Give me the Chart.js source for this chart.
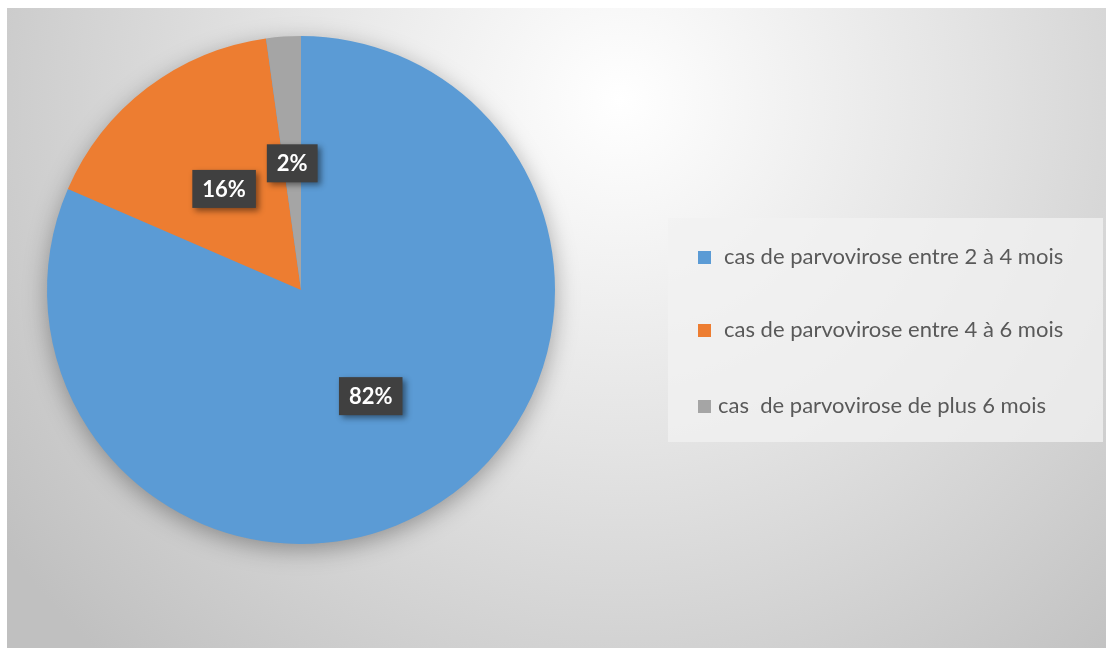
<!DOCTYPE html>
<html>
<head>
<meta charset="utf-8">
<script src="https://cdn.jsdelivr.net/npm/chart.js@4"></script>
<style>
  html, body { margin: 0; padding: 0; background: #fff; }
  #wrap { width: 1106px; height: 648px; position: relative; }
</style>
</head>
<body>
<div id="wrap"><canvas id="pieChart" width="1106" height="648"></canvas></div>
<script>
const categories = [
    'cas de parvovirose entre 2 à 4 mois',
    'cas de parvovirose entre 4 à 6 mois',
    'cas  de parvovirose de plus 6 mois'
]
const valeurs = [81.5, 16.3, 2.2]
const etiquettes = ['82%', '16%', '2%']
const couleurs = ['#5B9BD5', '#ED7D31', '#A5A5A5']

const fond = {
    id: 'fond',
    beforeDraw(chart) {
        const ctx = chart.ctx
        ctx.save()
        ctx.fillStyle = '#ffffff'
        ctx.fillRect(0, 0, chart.width, chart.height)
        const g = ctx.createRadialGradient(620, 100, 0, 620, 100, 760)
        g.addColorStop(0, '#ffffff')
        g.addColorStop(0.45, '#e4e4e4')
        g.addColorStop(1, '#c0c0c0')
        ctx.fillStyle = g
        ctx.fillRect(7, 8, chart.width - 7, chart.height - 8)
        ctx.restore()
    },
    beforeDatasetsDraw(chart) {
        const arc = chart.getDatasetMeta(0).data[0]
        const ctx = chart.ctx
        ctx.save()
        ctx.shadowColor = 'rgba(0,0,0,0.35)'
        ctx.shadowBlur = 24
        ctx.shadowOffsetX = 0
        ctx.shadowOffsetY = 6
        ctx.fillStyle = '#5B9BD5'
        ctx.beginPath()
        ctx.arc(arc.x, arc.y, arc.outerRadius - 1, 0, Math.PI * 2)
        ctx.fill()
        ctx.restore()
    }
}

const etiquettesPlugin = {
    id: 'etiquettes',
    afterDatasetsDraw(chart) {
        const ctx = chart.ctx
        const meta = chart.getDatasetMeta(0)
        ctx.save()
        ctx.font = 'bold 22px Lato'
        ctx.textAlign = 'center'
        ctx.textBaseline = 'middle'
        meta.data.forEach((arc, i) => {
            const p = arc.tooltipPosition()
            const w = ctx.measureText(etiquettes[i]).width + 20
            const h = 38
            ctx.save()
            ctx.shadowColor = 'rgba(0,0,0,0.45)'
            ctx.shadowBlur = 6
            ctx.shadowOffsetX = 3
            ctx.shadowOffsetY = 3
            ctx.fillStyle = '#404040'
            ctx.fillRect(p.x - w / 2, p.y - h / 2, w, h)
            ctx.restore()
            ctx.fillStyle = '#ffffff'
            ctx.fillText(etiquettes[i], p.x, p.y + 1)
        })
        ctx.restore()
    }
}

const legende = {
    id: 'legende',
    afterDraw(chart) {
        const ctx = chart.ctx
        ctx.save()
        ctx.fillStyle = 'rgba(242,242,242,0.75)'
        ctx.fillRect(668, 218, 435, 224)
        ctx.font = '22px Lato'
        ctx.textBaseline = 'middle'
        const lignes = [257, 330, 406]
        categories.forEach((cat, i) => {
            ctx.fillStyle = couleurs[i]
            ctx.fillRect(698, lignes[i] - 6, 13, 13)
            ctx.fillStyle = '#595959'
            ctx.fillText(cat, i === 2 ? 718 : 724, lignes[i])
        })
        ctx.restore()
    }
}

new Chart(document.getElementById('pieChart'), {
    type: 'pie',
    data: {
        labels: categories,
        datasets: [{
            data: valeurs,
            backgroundColor: couleurs,
            borderWidth: 0
        }]
    },
    options: {
        responsive: false,
        animation: false,
        layout: { padding: { left: 47, top: 36, right: 551, bottom: 104 } },
        plugins: {
            legend: { display: false },
            tooltip: { enabled: false }
        }
    },
    plugins: [fond, etiquettesPlugin, legende]
})
</script>
</body>
</html>
